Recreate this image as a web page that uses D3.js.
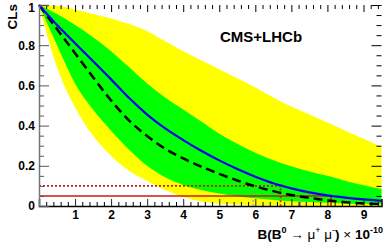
<!DOCTYPE html>
<html>
<head>
<meta charset="utf-8">
<script src="https://cdn.jsdelivr.net/npm/d3@7"></script>
<style>
  body { margin: 0; background: #fff; }
  svg { display: block; font-family: "Liberation Sans", Arial, sans-serif; }
</style>
</head>
<body>
<svg id="chart" width="390" height="244"></svg>
<script>
// branching fraction grid (x 10^-10)
const bf = [0, 0.5, 1, 1.5, 2, 2.5, 3, 3.5, 4, 4.5, 5, 5.5, 6, 6.5, 7, 7.5, 8, 8.5, 9, 9.5];
const observed = [1, 0.9, 0.81, 0.72, 0.63, 0.537, 0.455, 0.386, 0.328, 0.275, 0.227, 0.184, 0.146, 0.113, 0.088, 0.068, 0.053, 0.042, 0.033, 0.026];
const expected = [1, 0.88, 0.76, 0.64, 0.525, 0.425, 0.348, 0.285, 0.237, 0.196, 0.16, 0.127, 0.098, 0.074, 0.055, 0.04, 0.028, 0.019, 0.013, 0.009];
const sigma1Hi = [1, 0.955, 0.9, 0.84, 0.77, 0.69, 0.61, 0.54, 0.48, 0.42, 0.36, 0.31, 0.265, 0.228, 0.198, 0.172, 0.15, 0.125, 0.103, 0.085];
const sigma1Lo = [1, 0.8, 0.61, 0.48, 0.375, 0.28, 0.2, 0.143, 0.105, 0.08, 0.062, 0.049, 0.038, 0.03, 0.024, 0.02, 0.016, 0.013, 0.011, 0.009];
const sigma2Hi = [1, 0.996, 0.978, 0.955, 0.933, 0.905, 0.87, 0.82, 0.77, 0.725, 0.68, 0.635, 0.59, 0.54, 0.495, 0.455, 0.415, 0.375, 0.335, 0.295];
const sigma2Lo = [1, 0.69, 0.49, 0.35, 0.25, 0.175, 0.125, 0.08, 0.045, 0.022, 0.011, 0.006, 0.003, 0.002, 0.001, 0.001, 0, 0, 0, 0];

// CLs levels and where the curves cross them
const clLevels = [0.1, 0.05];
const obsLimits = [6.7, 8.1];
const expLimits = [5.94, 7.25];

const xTicks = [1, 2, 3, 4, 5, 6, 7, 8, 9];
const xTickLabels = ["1", "2", "3", "4", "5", "6", "7", "8", "9"];
const yTicks = [0, 0.2, 0.4, 0.6, 0.8, 1];
const yTickLabels = ["0", "0.2", "0.4", "0.6", "0.8", "1"];

const svg = d3.select("#chart");
const plotLeft = 39, plotRight = 381.5, plotTop = 5, plotBottom = 206;

const x = d3.scaleLinear().domain([0, 9.5]).range([plotLeft, plotRight]);
const y = d3.scaleLinear().domain([0, 1]).range([plotBottom, plotTop]);

const rows = bf.map((v, i) => ({
  x: v, obs: observed[i], exp: expected[i],
  s1lo: sigma1Lo[i], s1hi: sigma1Hi[i], s2lo: sigma2Lo[i], s2hi: sigma2Hi[i]
}));

const gBands = svg.append("g");
const gMarks = svg.append("g");
const gCurves = svg.append("g");
const gAxes = svg.append("g");

const band = (lo, hi) => d3.area()
  .x((d) => x(d.x))
  .y0((d) => y(d[lo]))
  .y1((d) => y(d[hi]))
  .curve(d3.curveMonotoneX);

const line = (key) => d3.line()
  .x((d) => x(d.x))
  .y((d) => y(d[key]))
  .curve(d3.curveMonotoneX);

gBands.append("path").datum(rows).attr("d", band("s2lo", "s2hi")).attr("fill", "#ffff00");
gBands.append("path").datum(rows).attr("d", band("s1lo", "s1hi")).attr("fill", "#00ff00");

// expected limit markers (grey)
gMarks.selectAll("line.exp")
  .data(expLimits)
  .join("line")
  .attr("class", "exp")
  .attr("x1", (d) => x(d)).attr("x2", (d) => x(d))
  .attr("y1", y(0)).attr("y2", (d, i) => y(clLevels[i]))
  .attr("stroke", "#999")
  .attr("stroke-width", 1.2)
  .attr("stroke-dasharray", (d, i) => (i === 0 ? "2,2" : "none"));

// observed limit markers (red): horizontal to the crossing, then down to the axis
const obsMarks = clLevels.map((lvl, i) => ({ lvl, lim: obsLimits[i], dash: i === 0 ? "2,2" : "none" }));

gMarks.selectAll("path.obs")
  .data(obsMarks)
  .join("path")
  .attr("class", "obs")
  .attr("d", (d) => `M${x(0)},${y(d.lvl)}H${x(d.lim)}V${y(0)}`)
  .attr("fill", "none")
  .attr("stroke", "#d41818")
  .attr("stroke-width", 1.6)
  .attr("stroke-dasharray", (d) => d.dash);

gCurves.append("path").datum(rows).attr("d", line("exp"))
  .attr("fill", "none").attr("stroke", "#000")
  .attr("stroke-width", 2.5).attr("stroke-dasharray", "9,5");
gCurves.append("path").datum(rows).attr("d", line("obs"))
  .attr("fill", "none").attr("stroke", "#0000f0").attr("stroke-width", 2.2);

// axes
const xMinor = d3.range(0.2, 9.5, 0.2).filter((v) => Math.abs(v - Math.round(v)) > 0.01);
const yMinor = d3.range(0.05, 1, 0.05).filter((v) => Math.abs(v * 5 - Math.round(v * 5)) > 0.01);

const styleAxis = (g) => {
  g.selectAll("text").attr("font-weight", "bold").attr("font-size", 12).attr("fill", "#000");
  g.selectAll("line").attr("stroke", "#222");
};

gAxes.append("g").attr("transform", `translate(0,${plotBottom})`)
  .call(d3.axisBottom(x).tickValues(xMinor).tickSize(-4).tickFormat(""))
  .call((g) => g.select(".domain").remove());
gAxes.append("g").attr("transform", `translate(0,${plotBottom})`)
  .call(d3.axisBottom(x).tickValues(xTicks).tickSize(-7).tickPadding(4)
    .tickFormat((d, i) => xTickLabels[i]))
  .call(styleAxis)
  .call((g) => g.select(".domain").attr("stroke", "#000").attr("stroke-width", 1.5));

gAxes.append("g").attr("transform", `translate(0,${plotTop})`)
  .call(d3.axisTop(x).tickValues(xMinor).tickSize(-4).tickFormat(""))
  .call((g) => g.select(".domain").remove());
gAxes.append("g").attr("transform", `translate(0,${plotTop})`)
  .call(d3.axisTop(x).tickValues(xTicks).tickSize(-7).tickFormat(""))
  .call((g) => g.select(".domain").remove());

gAxes.append("g").attr("transform", `translate(${plotLeft},0)`)
  .call(d3.axisLeft(y).tickValues(yMinor).tickSize(-5).tickFormat(""))
  .call((g) => g.select(".domain").remove())
  .call((g) => g.selectAll("line").attr("stroke", "#555"));
gAxes.append("g").attr("transform", `translate(${plotLeft},0)`)
  .call(d3.axisLeft(y).tickValues(yTicks).tickSize(-10).tickPadding(4)
    .tickFormat((d, i) => yTickLabels[i]))
  .call(styleAxis)
  .call((g) => g.selectAll("line").attr("stroke", "#555"))
  .call((g) => g.select(".domain").attr("stroke", "#777").attr("stroke-width", 1.5))
  .call((g) => g.selectAll(".tick text").filter((d) => d === 1).attr("dy", "0.5em"));

gAxes.append("g").attr("transform", `translate(${plotRight},0)`)
  .call(d3.axisRight(y).tickValues(yMinor).tickSize(-5).tickFormat(""))
  .call((g) => g.select(".domain").remove());
gAxes.append("g").attr("transform", `translate(${plotRight},0)`)
  .call(d3.axisRight(y).tickValues(yTicks).tickSize(-10).tickFormat(""))
  .call((g) => g.select(".domain").remove());

// labels
svg.append("text")
  .attr("transform", `translate(17,4) rotate(-90)`)
  .attr("text-anchor", "end")
  .attr("font-weight", "bold").attr("font-size", 13.5)
  .text("CLs");

svg.append("text")
  .attr("x", 220).attr("y", 42)
  .attr("font-weight", "bold").attr("font-size", 15)
  .text("CMS+LHCb");

const title = svg.append("text")
  .attr("x", 383).attr("y", 239)
  .attr("text-anchor", "end")
  .attr("font-size", 13.5);
title.append("tspan").attr("font-weight", "bold").text("B(B");
title.append("tspan").attr("font-weight", "bold").attr("font-size", 9).attr("dy", -6).text("0");
title.append("tspan").attr("dy", 6).text(" \u2192 \u03bc");
title.append("tspan").attr("font-size", 9).attr("dy", -6).text("+");
title.append("tspan").attr("dy", 6).text(" \u03bc");
title.append("tspan").attr("font-size", 9).attr("dy", -6).text("-");
title.append("tspan").attr("font-weight", "bold").attr("dy", 6).text(")");
title.append("tspan").text(" \u00d7 ");
title.append("tspan").attr("font-weight", "bold").text("10");
title.append("tspan").attr("font-weight", "bold").attr("font-size", 9).attr("dy", -6).text("-10");
</script>
</body>
</html>
